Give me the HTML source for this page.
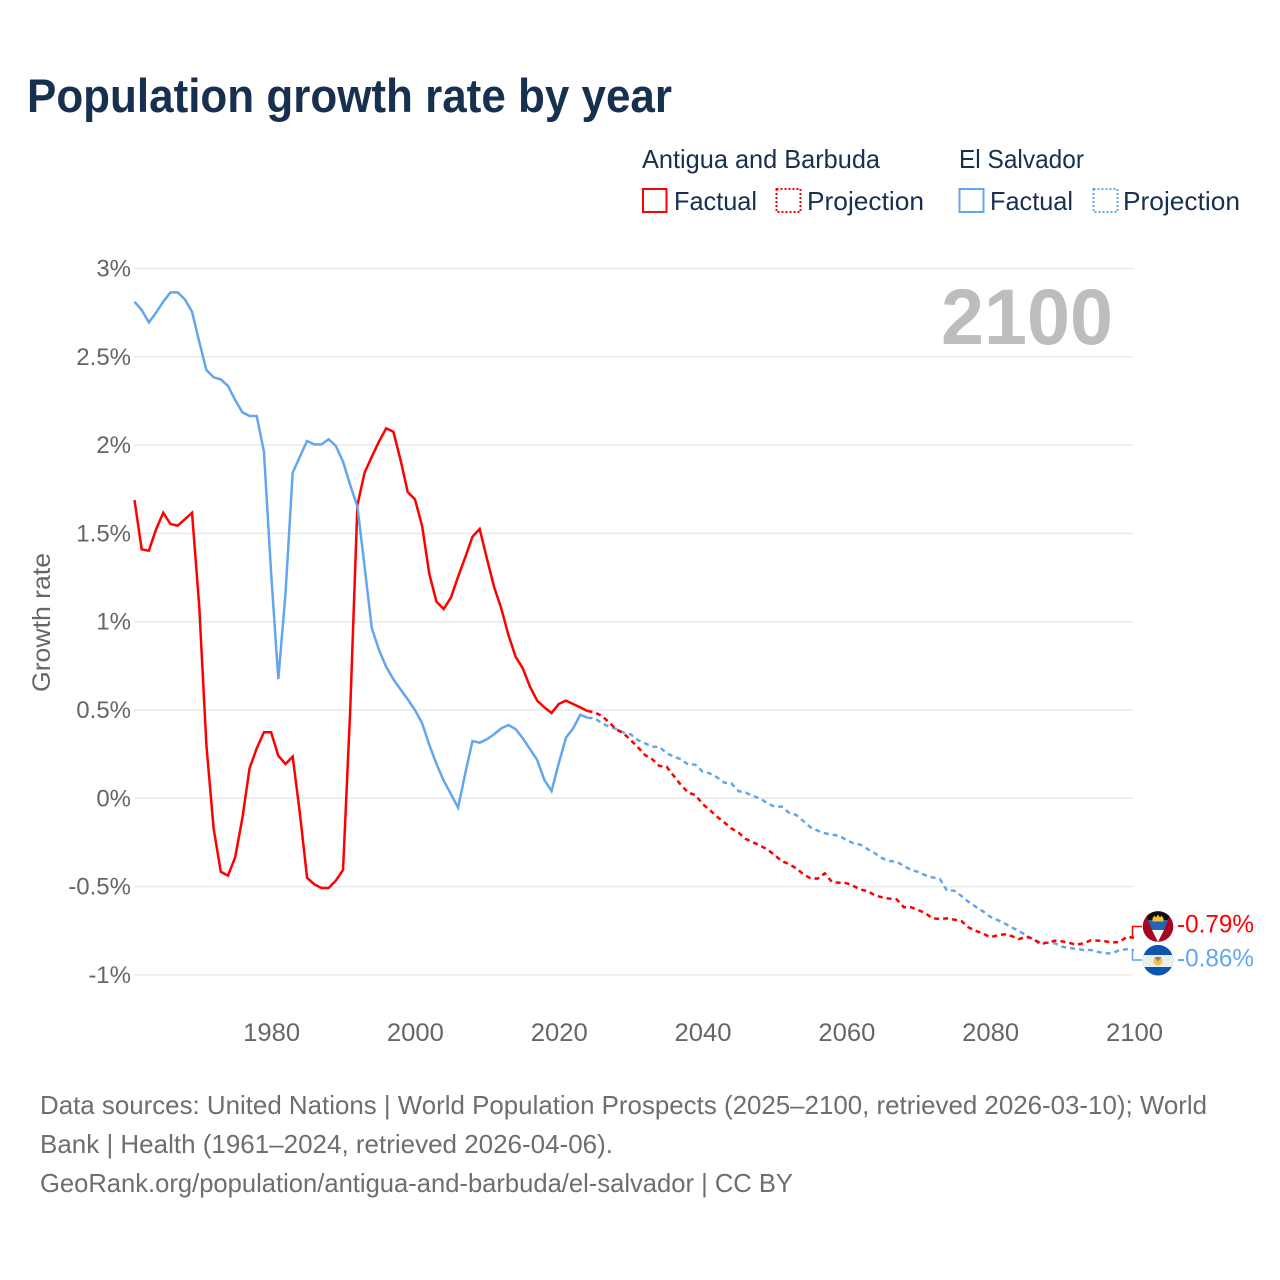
<!DOCTYPE html>
<html lang="en">
<head>
<meta charset="utf-8">
<title>Population growth rate by year</title>
<style>
  html, body { margin: 0; padding: 0; background: #fff; }
  svg { display: block; font-family: "Liberation Sans", sans-serif; }
</style>
</head>
<body>
<svg id="chart" xmlns="http://www.w3.org/2000/svg" width="1280" height="1280" viewBox="0 0 1280 1280">
  <rect x="0" y="0" width="1280" height="1280" fill="#ffffff"/>
  <text x="27" y="112" font-size="47" font-weight="700" fill="#18304f" textLength="645" lengthAdjust="spacingAndGlyphs">Population growth rate by year</text>

  <g font-size="26" fill="#18304f">
    <text x="642" y="168" textLength="238" lengthAdjust="spacingAndGlyphs">Antigua and Barbuda</text>
    <text x="959" y="168" textLength="125" lengthAdjust="spacingAndGlyphs">El Salvador</text>
    <rect x="643" y="189" width="23.5" height="23" fill="none" stroke="#ff0000" stroke-width="2"/>
    <text x="674" y="210" textLength="83" lengthAdjust="spacingAndGlyphs">Factual</text>
    <rect x="776.5" y="189" width="24" height="23" fill="none" stroke="#ff0000" stroke-width="2" stroke-dasharray="2 2"/>
    <text x="807" y="210" textLength="117" lengthAdjust="spacingAndGlyphs">Projection</text>
    <rect x="959.5" y="189" width="24" height="23" fill="none" stroke="#62a7ee" stroke-width="2"/>
    <text x="990" y="210" textLength="83" lengthAdjust="spacingAndGlyphs">Factual</text>
    <rect x="1093.5" y="189" width="24" height="23" fill="none" stroke="#62a7ee" stroke-width="2" stroke-dasharray="2 2"/>
    <text x="1123" y="210" textLength="117" lengthAdjust="spacingAndGlyphs">Projection</text>
  </g>

  <g id="grid"></g>
  <g id="yticks"></g>
  <g id="xticks"></g>

  <text x="941" y="344" font-size="79" font-weight="700" fill="#bdbdbd" textLength="172" lengthAdjust="spacingAndGlyphs">2100</text>
  <text transform="translate(50 692) rotate(-90)" font-size="25" fill="#666666" textLength="139" lengthAdjust="spacingAndGlyphs">Growth rate</text>

  <g id="series"></g>

  <g>
    <clipPath id="clipA"><circle cx="1158" cy="926.5" r="15.3"/></clipPath>
    <g clip-path="url(#clipA)">
      <rect x="1142" y="911" width="32" height="32" fill="#a5051f"/>
      <polygon points="1145,911 1171,911 1167.5,921 1148.5,921" fill="#0e0e0e"/>
      <polygon points="1148,920 1168,920 1164,930 1152,930" fill="#2466b4"/>
      <polygon points="1152,930 1164,930 1158,942" fill="#f4f4f4"/>
      <rect x="1152.5" y="918" width="11" height="3.5" fill="#f2c230"/>
      <polygon points="1152.5,918.5 1154.5,915.5 1156,917.5 1158,914.5 1160,917.5 1161.5,915.5 1163.5,918.5" fill="#f2c230"/>
    </g>
  </g>
  <g>
    <clipPath id="clipS"><circle cx="1158" cy="960.2" r="15.3"/></clipPath>
    <g clip-path="url(#clipS)">
      <rect x="1142" y="944" width="32" height="33" fill="#0d56b0"/>
      <rect x="1142" y="955" width="32" height="12" fill="#ededed"/>
      <circle cx="1158" cy="961" r="4.5" fill="#e9c452"/>
      <polygon points="1154.5,957 1161.5,957 1158,961.5" fill="#8a8a60"/>
    </g>
  </g>

  <g id="endlabels"></g>

  <g font-size="26" fill="#6e6e6e">
    <text x="40" y="1114" textLength="1167" lengthAdjust="spacingAndGlyphs">Data sources: United Nations | World Population Prospects (2025–2100, retrieved 2026-03-10); World</text>
    <text x="40" y="1153" textLength="573" lengthAdjust="spacingAndGlyphs">Bank | Health (1961–2024, retrieved 2026-04-06).</text>
    <text x="40" y="1192" textLength="753" lengthAdjust="spacingAndGlyphs">GeoRank.org/population/antigua-and-barbuda/el-salvador | CC BY</text>
  </g>
</svg>

<script>
const factualStartYear = 1961;
const projectionStartYear = 2024;
const xTickYears = [1980, 2000, 2020, 2040, 2060, 2080, 2100];
const yTickValues = [3, 2.5, 2, 1.5, 1, 0.5, 0, -0.5, -1];

const antiguaFactual = [1.689,1.41,1.402,1.523,1.617,1.553,1.544,1.58,1.617,1.09,0.30,-0.17,-0.416,-0.438,-0.334,-0.113,0.17,0.283,0.374,0.374,0.241,0.194,0.236,-0.085,-0.45,-0.487,-0.508,-0.508,-0.466,-0.406,0.5,1.66,1.844,1.934,2.02,2.095,2.076,1.916,1.734,1.693,1.542,1.27,1.113,1.072,1.136,1.255,1.365,1.481,1.525,1.359,1.198,1.076,0.925,0.802,0.736,0.632,0.553,0.515,0.483,0.534,0.553,0.534,0.515,0.494];
const salvadorFactual = [2.812,2.765,2.695,2.75,2.812,2.865,2.865,2.826,2.755,2.586,2.425,2.384,2.372,2.335,2.255,2.186,2.165,2.165,1.963,1.275,0.675,1.16,1.844,1.934,2.023,2.004,2.004,2.033,1.995,1.906,1.774,1.651,1.311,0.963,0.84,0.745,0.674,0.617,0.56,0.5,0.425,0.302,0.194,0.1,0.024,-0.053,0.141,0.324,0.315,0.334,0.362,0.396,0.415,0.392,0.34,0.279,0.217,0.104,0.041,0.198,0.343,0.396,0.473,0.456];
const antiguaProjection = [0.494,0.487,0.466,0.430,0.391,0.368,0.330,0.289,0.245,0.221,0.183,0.179,0.126,0.075,0.032,0.019,-0.032,-0.066,-0.104,-0.136,-0.170,-0.194,-0.230,-0.249,-0.268,-0.289,-0.321,-0.355,-0.372,-0.396,-0.429,-0.453,-0.455,-0.425,-0.474,-0.478,-0.480,-0.497,-0.516,-0.527,-0.550,-0.561,-0.568,-0.572,-0.617,-0.617,-0.633,-0.651,-0.680,-0.683,-0.680,-0.687,-0.695,-0.731,-0.751,-0.765,-0.787,-0.776,-0.770,-0.780,-0.797,-0.784,-0.797,-0.825,-0.817,-0.806,-0.810,-0.819,-0.829,-0.821,-0.804,-0.806,-0.810,-0.816,-0.814,-0.784,-0.79];
const salvadorProjection = [0.456,0.453,0.425,0.406,0.393,0.372,0.362,0.330,0.311,0.292,0.291,0.255,0.236,0.221,0.191,0.191,0.151,0.141,0.119,0.089,0.085,0.041,0.032,0.013,0.000,-0.028,-0.047,-0.047,-0.081,-0.094,-0.128,-0.164,-0.183,-0.198,-0.206,-0.212,-0.236,-0.255,-0.263,-0.289,-0.312,-0.340,-0.355,-0.359,-0.383,-0.406,-0.417,-0.436,-0.448,-0.457,-0.523,-0.523,-0.553,-0.587,-0.614,-0.640,-0.670,-0.689,-0.708,-0.731,-0.751,-0.776,-0.799,-0.817,-0.817,-0.821,-0.840,-0.848,-0.853,-0.859,-0.859,-0.870,-0.878,-0.878,-0.859,-0.855,-0.86];

const NS = 'http://www.w3.org/2000/svg';
const RED = '#ff0000';
const BLUE = '#62a7ee';

function xScale(year) { return 134.5 + (year - 1961) * (1134 - 134.5) / (2100 - 1961); }
function yScale(value) { return 798.3 - value * 176.6; }

function make(tag, attrs, parent, text) {
  const el = document.createElementNS(NS, tag);
  Object.keys(attrs).forEach(function (k) { el.setAttribute(k, attrs[k]); });
  if (text !== undefined) el.textContent = text;
  parent.appendChild(el);
  return el;
}

const gridGroup = document.getElementById('grid');
const yTickGroup = document.getElementById('yticks');
yTickValues.forEach(function (v) {
  const y = yScale(v);
  const line = make('line', { x1: 134, x2: 1133, y1: y, y2: y, stroke: '#e9e9e9', 'stroke-width': 1.5 }, gridGroup);
  
  
  const label = make('text', { x: 131, y: y + 8, 'text-anchor': 'end', 'font-size': 24, fill: '#666666' }, yTickGroup, v + '%');
  
  
});

const xTickGroup = document.getElementById('xticks');
xTickYears.forEach(function (yr) {
  const label = make('text', { x: xScale(yr) + 0.5, y: 1041, 'text-anchor': 'middle', 'font-size': 25, fill: '#666666', textLength: 57, lengthAdjust: 'spacingAndGlyphs' }, xTickGroup, String(yr));
  
  
});

function pathFor(values, startYear) {
  return values.map(function (v, i) {
    return (i ? 'L' : 'M') + xScale(startYear + i).toFixed(2) + ' ' + yScale(v).toFixed(2);
  }).join(' ');
}

const seriesGroup = document.getElementById('series');

const antiguaFactualLine = make('path', { d: pathFor(antiguaFactual, factualStartYear), fill: 'none', stroke: RED, 'stroke-width': 2.5, 'stroke-linejoin': 'miter' }, seriesGroup);



const salvadorFactualLine = make('path', { d: pathFor(salvadorFactual, factualStartYear), fill: 'none', stroke: BLUE, 'stroke-width': 2.5, 'stroke-linejoin': 'miter' }, seriesGroup);



const salvadorProjectionLine = make('path', { d: pathFor(salvadorProjection, projectionStartYear), fill: 'none', stroke: BLUE, 'stroke-width': 2.5, 'stroke-dasharray': '5 4' }, seriesGroup);



const antiguaProjectionLine = make('path', { d: pathFor(antiguaProjection, projectionStartYear), fill: 'none', stroke: RED, 'stroke-width': 2.5, 'stroke-dasharray': '5 4' }, seriesGroup);



const endGroup = document.getElementById('endlabels');
const lastYear = projectionStartYear + antiguaProjection.length - 1;
const antiguaLast = antiguaProjection[antiguaProjection.length - 1];
const salvadorLast = salvadorProjection[salvadorProjection.length - 1];

const antiguaConnector = make('path', { d: 'M' + xScale(lastYear) + ' ' + yScale(antiguaLast) + ' H1132.5 V926.5 H1142', fill: 'none', stroke: RED, 'stroke-width': 1.5 }, endGroup);



const salvadorConnector = make('path', { d: 'M' + xScale(lastYear) + ' ' + yScale(salvadorLast) + ' H1132.5 V960 H1142', fill: 'none', stroke: BLUE, 'stroke-width': 1.5 }, endGroup);



const antiguaEndLabel = make('text', { x: 1177, y: 932.5, 'font-size': 25, fill: RED, textLength: 77, lengthAdjust: 'spacingAndGlyphs' }, endGroup, antiguaLast.toFixed(2) + '%');



const salvadorEndLabel = make('text', { x: 1177, y: 966.5, 'font-size': 25, fill: BLUE, textLength: 77, lengthAdjust: 'spacingAndGlyphs' }, endGroup, salvadorLast.toFixed(2) + '%');


</script>
</body>
</html>
